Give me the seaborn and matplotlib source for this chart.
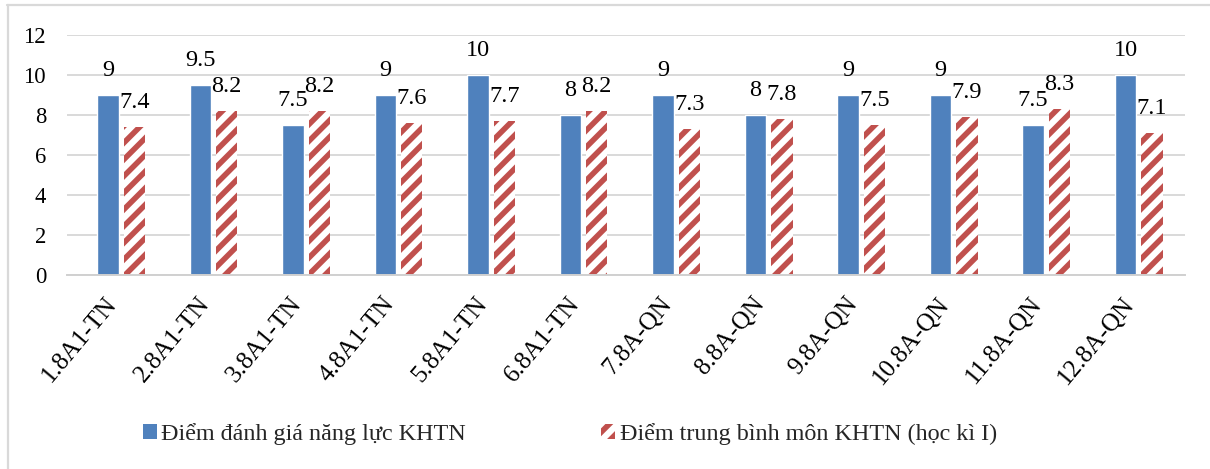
import matplotlib
matplotlib.use('Agg')
import matplotlib.pyplot as plt
from matplotlib.lines import Line2D
from matplotlib.transforms import ScaledTranslation
import pandas as pd
import seaborn as sns

# Chart data
classes = ['1.8A1-TN', '2.8A1-TN', '3.8A1-TN', '4.8A1-TN', '5.8A1-TN', '6.8A1-TN',
           '7.8A-QN', '8.8A-QN', '9.8A-QN', '10.8A-QN', '11.8A-QN', '12.8A-QN']
nang_luc = [9, 9.5, 7.5, 9, 10, 8, 9, 8, 9, 9, 7.5, 10]
trung_binh = [7.4, 8.2, 8.2, 7.6, 7.7, 8.2, 7.3, 7.8, 7.5, 7.9, 8.3, 7.1]
series_names = ['Điểm đánh giá năng lực KHTN', 'Điểm trung bình môn KHTN (học kì I)']
y_ticks = [0, 2, 4, 6, 8, 10, 12]

BLUE = '#4F81BD'
RED = '#C0504D'
DPI = 100

df = pd.DataFrame({
    'Lớp': classes * 2,
    'Điểm': nang_luc + trung_binh,
    'Loại': [series_names[0]] * len(classes) + [series_names[1]] * len(classes),
})

sns.set_theme(style='white')
plt.rcParams['font.family'] = ['Liberation Serif', 'DejaVu Serif']
plt.rcParams['hatch.linewidth'] = 4.0
plt.rcParams['hatch.color'] = RED

fig = plt.figure(figsize=(1210 / DPI, 469 / DPI), dpi=DPI)
ax = fig.add_axes([67 / 1210, 1 - 275 / 469, 1118 / 1210, 240 / 469])

sns.barplot(data=df, x='Lớp', y='Điểm', hue='Loại', palette=[BLUE, RED],
            width=0.57, gap=0.19, ax=ax, legend=False, saturation=1)

# second series: white bars with red diagonal stripes
for bar in ax.containers[1]:
    bar.set_facecolor('white')
    bar.set_edgecolor(RED)
    bar.set_linewidth(0)
    bar.set_hatch('//')

for cont, vals in zip(ax.containers, [nang_luc, trung_binh]):
    for bar, v in zip(cont, vals):
        ax.annotate(f'{v:g}', (bar.get_x() + bar.get_width() / 2, bar.get_height()),
                    xytext=(0, 14), textcoords='offset points',
                    ha='center', va='baseline', fontsize=17.5, color='black')

ax.set_ylim(0, 12)
ax.set_yticks(y_ticks)
ax.set_xlim(-0.584, 11.5)
ax.yaxis.grid(True, color='#D9D9D9', linewidth=1.4)
ax.set_axisbelow(True)
for s in ['top', 'right', 'left']:
    ax.spines[s].set_visible(False)
ax.spines['bottom'].set_color('#D0D0D0')
ax.spines['bottom'].set_linewidth(1.4)
ax.set_xlabel('')
ax.set_ylabel('')
ax.tick_params(axis='y', labelsize=16.25, pad=15, length=0, colors='black')
ax.tick_params(axis='x', labelsize=18, pad=18, length=0, colors='black')
shift = ScaledTranslation(-8 / DPI, 0, fig.dpi_scale_trans)
for lbl in ax.get_xticklabels():
    lbl.set_rotation(50)
    lbl.set_ha('right')
    lbl.set_va('center')
    lbl.set_rotation_mode('anchor')
    lbl.set_transform(lbl.get_transform() + shift)

# legend below the chart
handles = [plt.Rectangle((0, 0), 1, 1, facecolor=BLUE, edgecolor='none'),
           plt.Rectangle((0, 0), 1, 1, facecolor='white', edgecolor=RED,
                         linewidth=0, hatch='//')]
fig.legend(handles, series_names, loc='center', bbox_to_anchor=(570 / 1210, 1 - 434 / 469),
           ncol=2, frameon=False, fontsize=17.4, handlelength=0.58, handleheight=0.58,
           handletextpad=0.18, columnspacing=5.6)

# chart area border (top and left visible)
fig.add_artist(Line2D([7 / 1210, 1], [1 - 5 / 469, 1 - 5 / 469], transform=fig.transFigure,
                      color='#D9D9D9', linewidth=1.6))
fig.add_artist(Line2D([8 / 1210, 8 / 1210], [0, 1 - 5 / 469], transform=fig.transFigure,
                      color='#D9D9D9', linewidth=1.6))

fig.savefig('out.png', dpi=DPI)
